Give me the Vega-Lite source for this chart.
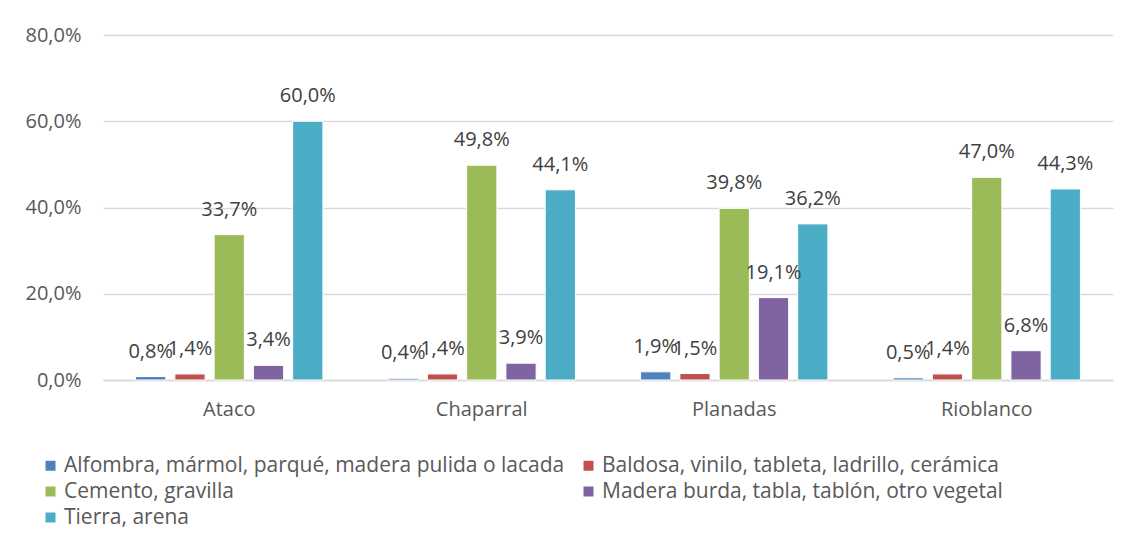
{
  "$schema": "https://vega.github.io/schema/vega-lite/v6.json",
  "autosize": {"type": "none"},
  "width": 1010,
  "height": 345,
  "padding": {"left": 103, "top": 35, "right": 14, "bottom": 160},
  "background": "white",
  "config": {
    "locale": {"number": {"decimal": ",", "thousands": ".", "grouping": [3], "currency": ["", " €"]}},
    "view": {"stroke": null},
    "font": "Open Sans"
  },
  "data": {
    "values": [
      {"municipio": "Ataco", "material": "Alfombra, mármol, parqué, madera pulida o lacada", "valor": 0.008},
      {"municipio": "Ataco", "material": "Baldosa, vinilo, tableta, ladrillo, cerámica", "valor": 0.014},
      {"municipio": "Ataco", "material": "Cemento, gravilla", "valor": 0.337},
      {"municipio": "Ataco", "material": "Madera burda, tabla, tablón, otro vegetal", "valor": 0.034},
      {"municipio": "Ataco", "material": "Tierra, arena", "valor": 0.600},
      {"municipio": "Chaparral", "material": "Alfombra, mármol, parqué, madera pulida o lacada", "valor": 0.004},
      {"municipio": "Chaparral", "material": "Baldosa, vinilo, tableta, ladrillo, cerámica", "valor": 0.014},
      {"municipio": "Chaparral", "material": "Cemento, gravilla", "valor": 0.498},
      {"municipio": "Chaparral", "material": "Madera burda, tabla, tablón, otro vegetal", "valor": 0.039},
      {"municipio": "Chaparral", "material": "Tierra, arena", "valor": 0.441},
      {"municipio": "Planadas", "material": "Alfombra, mármol, parqué, madera pulida o lacada", "valor": 0.019},
      {"municipio": "Planadas", "material": "Baldosa, vinilo, tableta, ladrillo, cerámica", "valor": 0.015},
      {"municipio": "Planadas", "material": "Cemento, gravilla", "valor": 0.398},
      {"municipio": "Planadas", "material": "Madera burda, tabla, tablón, otro vegetal", "valor": 0.191},
      {"municipio": "Planadas", "material": "Tierra, arena", "valor": 0.362},
      {"municipio": "Rioblanco", "material": "Alfombra, mármol, parqué, madera pulida o lacada", "valor": 0.005},
      {"municipio": "Rioblanco", "material": "Baldosa, vinilo, tableta, ladrillo, cerámica", "valor": 0.014},
      {"municipio": "Rioblanco", "material": "Cemento, gravilla", "valor": 0.470},
      {"municipio": "Rioblanco", "material": "Madera burda, tabla, tablón, otro vegetal", "valor": 0.068},
      {"municipio": "Rioblanco", "material": "Tierra, arena", "valor": 0.443}
    ]
  },
  "encoding": {
    "x": {
      "field": "municipio", "type": "nominal", "sort": null,
      "scale": {"paddingInner": 0.227, "paddingOuter": 0.1135},
      "axis": {"title": null, "labelAngle": 0, "labelFontSize": 20, "labelColor": "#595959", "labelPadding": 19, "ticks": false, "domainColor": "#D9D9D9", "domainWidth": 1.5, "grid": false}
    },
    "xOffset": {"field": "material", "type": "nominal", "sort": null, "scale": {"paddingInner": 0.23, "paddingOuter": 0.1}},
    "y": {
      "field": "valor", "type": "quantitative",
      "scale": {"domain": [0, 0.8]},
      "axis": {"title": null, "format": ".1%", "values": [0, 0.2, 0.4, 0.6, 0.8], "labelFontSize": 20, "labelColor": "#595959", "labelPadding": 22, "ticks": false, "domain": false, "gridColor": "#D9D9D9", "gridWidth": 1.5}
    }
  },
  "layer": [
    {
      "mark": {"type": "bar", "stroke": "white", "strokeWidth": 1},
      "encoding": {
        "color": {
          "field": "material", "type": "nominal", "sort": null,
          "scale": {
            "domain": ["Alfombra, mármol, parqué, madera pulida o lacada", "Baldosa, vinilo, tableta, ladrillo, cerámica", "Cemento, gravilla", "Madera burda, tabla, tablón, otro vegetal", "Tierra, arena"],
            "range": ["#4F81BD", "#C0504D", "#9BBB59", "#8064A2", "#4BACC6"]
          },
          "legend": {
            "title": null, "orient": "none", "legendX": -63, "legendY": 420,
            "direction": "horizontal",
            "columns": 2, "symbolType": "square", "symbolSize": 100, "symbolStrokeWidth": 0,
            "labelFontSize": 21, "labelColor": "#595959", "labelLimit": 700,
            "rowPadding": 4, "columnPadding": 13, "labelOffset": 3
          }
        }
      }
    },
    {
      "mark": {"type": "text", "baseline": "alphabetic", "dy": -19, "fontSize": 20, "color": "#404040"},
      "encoding": {"text": {"field": "valor", "type": "quantitative", "format": ".1%"}}
    }
  ]
}
